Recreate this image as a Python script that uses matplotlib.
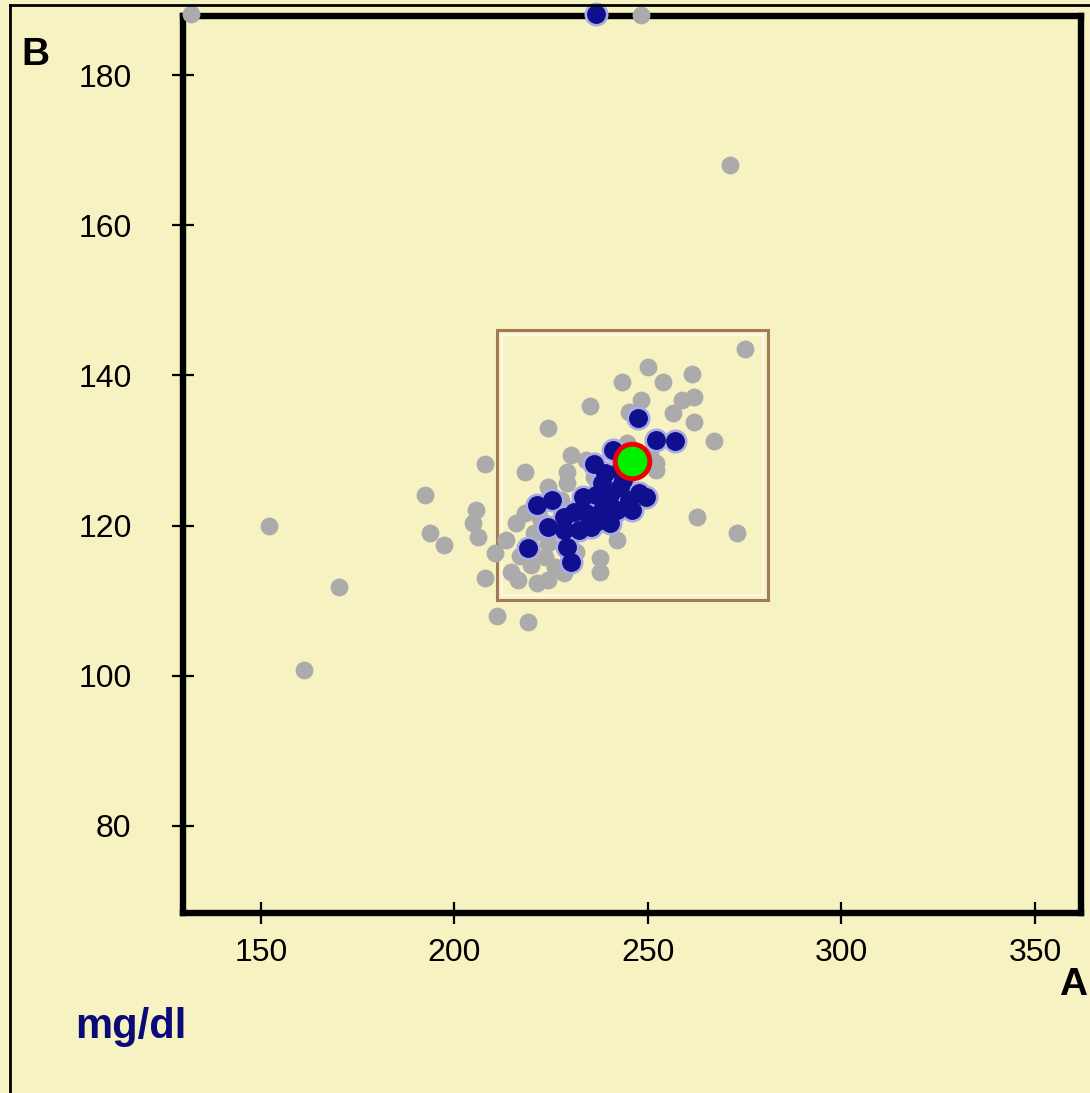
import matplotlib.pyplot as plt
from matplotlib.lines import Line2D
from matplotlib.patches import Rectangle

bg = '#F7F2C1'

# reference population (grey)
gray_x = [131.8, 248.1, 271.1, 275.2, 152.0, 161.0, 170.1, 192.3, 193.8, 197.2,
          207.8, 211.1, 219.1, 262.8, 272.9, 267.0, 249.9, 261.3, 243.2, 253.8,
          234.9, 261.8, 258.7, 256.4, 261.8, 245.0, 224.1, 218.1, 230.0, 229.0,
          205.5, 204.9, 206.0, 210.6, 207.8, 216.3, 221.2, 224.1, 237.5, 237.5,
          215.8, 218.1, 224.1, 229.0, 241.9, 252.0, 252.2, 223.3, 224.1, 228.2,
          219.7, 213.2, 227.4, 233.9, 248.1, 240.3, 217.0, 220.5, 226.0, 231.5,
          214.5, 222.0, 236.0, 244.5, 250.5]
gray_y = [188.1, 188.0, 168.0, 143.5, 119.9, 100.7, 111.8, 124.1, 119.0, 117.4,
          128.2, 108.0, 107.2, 121.2, 119.0, 131.3, 141.1, 140.2, 139.1, 139.1,
          135.9, 137.1, 136.7, 135.0, 133.8, 135.1, 133.0, 127.1, 129.4, 127.1,
          122.1, 120.4, 118.5, 116.4, 113.0, 112.8, 112.4, 112.8, 115.7, 113.8,
          120.4, 121.7, 125.1, 125.7, 118.1, 127.4, 128.3, 115.8, 117.7, 113.7,
          114.8, 118.1, 123.4, 128.7, 136.7, 123.4, 116.0, 119.0, 114.5, 116.5,
          113.8, 121.0, 126.5, 131.0, 129.5]

# selected group (dark blue)
blue_x = [236.7, 247.3, 252.0, 257.1, 236.0, 240.9, 233.1, 238.0, 242.9, 247.8,
          249.4, 246.0, 241.9, 238.0, 234.1, 235.2, 240.1, 228.2, 224.1, 228.2,
          229.0, 230.0, 221.2, 225.1, 219.1, 242.9, 245.0, 236.5, 232.1, 240.3,
          237.0, 243.5, 231.0, 239.0]
blue_y = [188.1, 134.3, 131.4, 131.2, 128.2, 130.1, 123.8, 125.7, 125.1, 124.3,
          123.8, 122.1, 122.1, 122.1, 121.7, 119.8, 120.4, 121.2, 119.8, 119.4,
          117.2, 115.2, 122.7, 123.4, 117.0, 127.4, 123.4, 124.1, 119.4, 124.1,
          120.6, 126.0, 121.8, 127.0]

# current sample and target box
sample_x, sample_y = 246.0, 128.6
box_x = [211.0, 281.0]
box_y = [110.1, 146.1]

x_ticks = [150, 200, 250, 300, 350]
y_ticks = [80, 100, 120, 140, 160, 180]

plt.rcParams['font.family'] = ['Liberation Sans', 'DejaVu Sans']

fig = plt.figure(figsize=(10.9, 10.93), dpi=100, facecolor=bg)
ax = fig.add_axes([183 / 1090, 1 - 913 / 1093, 898 / 1090, 897 / 1093])
ax.set_facecolor(bg)
ax.set_xlim(129.85, 361.9)
ax.set_ylim(68.4, 187.86)

ax.add_patch(Rectangle((box_x[0], box_y[0]), box_x[1] - box_x[0], box_y[1] - box_y[0],
                       fill=False, edgecolor='#A27A55', lw=2.2, zorder=2))
ax.add_patch(Rectangle((box_x[0] + 1.3, box_y[0] + 0.7), box_x[1] - box_x[0] - 2.6,
                       box_y[1] - box_y[0] - 1.4, fill=False, edgecolor='#FFF8E6',
                       lw=1.6, zorder=2))

ax.scatter(gray_x, gray_y, s=165, color='#ABABAB', lw=0, zorder=3, clip_on=False)
ax.scatter(blue_x, blue_y, s=300, color='#AAAAE4', lw=0, zorder=4, clip_on=False)
ax.scatter(blue_x, blue_y, s=185, color='#10108E', lw=0, zorder=5, clip_on=False)
ax.scatter([sample_x], [sample_y], s=620, color='#00F000', edgecolor='#F00000',
           lw=3.5, zorder=6)

for sp in ax.spines.values():
    sp.set_linewidth(4.6)
    sp.set_color('black')
    sp.set_zorder(2.5)

ax.set_xticks(x_ticks)
ax.set_yticks(y_ticks)
ax.tick_params(direction='inout', length=16, width=1.6, color='black',
               labelsize=23, labelcolor='black')
ax.tick_params(axis='x', pad=10)
ax.tick_params(axis='y', pad=29)

fig.text(35 / 1090, 1 - 55 / 1093, 'B', fontsize=28, fontweight='bold',
         ha='center', va='center')
fig.text(1073 / 1090, 1 - 985 / 1093, 'A', fontsize=28, fontweight='bold',
         ha='center', va='center')
fig.text(75 / 1090, 1 - 1038 / 1093, 'mg/dl', fontsize=30, fontweight='bold',
         color='#0A0A78', ha='left', va='baseline')

# outer frame lines
fig.add_artist(Line2D([10 / 1090, 10 / 1090], [0, 1 - 5 / 1093], color='black', lw=2))
fig.add_artist(Line2D([10 / 1090, 1], [1 - 5 / 1093, 1 - 5 / 1093], color='black', lw=2))

fig.savefig('out.png', dpi=100, facecolor=bg)
